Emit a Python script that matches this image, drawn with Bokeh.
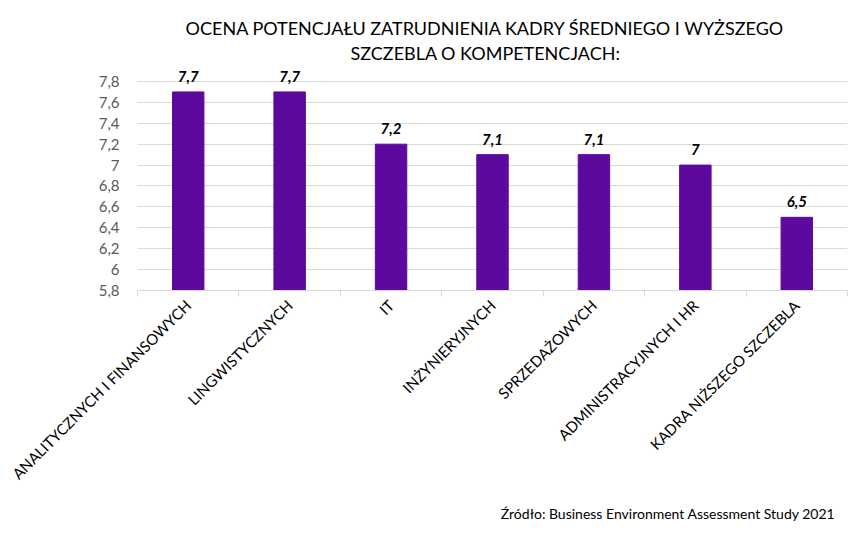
import math
from bokeh.plotting import figure
from bokeh.models import (Range1d, FixedTicker, LinearAxis, Title,
                          CustomJSTickFormatter, Label, ColumnDataSource)
from bokeh.core.properties import value
from bokeh.embed import file_html
from bokeh.resources import INLINE

categories = ["ANALITYCZNYCH I FINANSOWYCH", "LINGWISTYCZNYCH", "IT",
              "INŻYNIERYJNYCH", "SPRZEDAŻOWYCH", "ADMINISTRACYJNYCH I HR",
              "KADRA NIŻSZEGO SZCZEBLA"]
scores = [7.7, 7.7, 7.2, 7.1, 7.1, 7.0, 6.5]
y_ticks = [5.8, 6.0, 6.2, 6.4, 6.6, 6.8, 7.0, 7.2, 7.4, 7.6, 7.8]
title_lines = ["OCENA POTENCJAŁU ZATRUDNIENIA KADRY ŚREDNIEGO I WYŻSZEGO",
               "SZCZEBLA O KOMPETENCJACH:"]
source_text = "Źródło: Business Environment Assessment Study 2021"


def fmt(v):
    s = ("%.1f" % v).replace(".", ",")
    return s[:-2] if s.endswith(",0") else s


n = len(categories)
centers = [i + 0.5 for i in range(n)]
boundaries = list(range(n + 1))
labels = [fmt(v) for v in scores]
src = ColumnDataSource(dict(x=centers, val=scores, lab=labels))

# frame extends above 7.8 to hold title and value labels (no outline drawn)
p = figure(x_range=Range1d(0, n), y_range=Range1d(5.8, 8.527), width=852, height=533,
           output_backend="svg", toolbar_location=None, x_axis_location=None,
           min_border_left=137, min_border_right=5, min_border_top=5,
           min_border_bottom=243)
p.outline_line_color = None
p.background_fill_color = "white"
p.border_fill_color = "white"

# y axis
p.yaxis.ticker = FixedTicker(ticks=y_ticks)
p.yaxis.formatter = CustomJSTickFormatter(
    code="var s = (Math.round(tick*10)/10).toString(); return s.replace('.', ',');")
p.yaxis.axis_line_color = None
p.yaxis.major_tick_line_color = None
p.yaxis.minor_tick_line_color = None
p.yaxis.major_label_text_font = "Lato"
p.yaxis.major_label_text_font_size = "15px"
p.yaxis.major_label_text_color = "#595959"
p.yaxis.major_label_standoff = 12

p.ygrid.ticker = FixedTicker(ticks=y_ticks)
p.ygrid.grid_line_color = "#d9d9d9"
p.ygrid.grid_line_width = 1
p.xgrid.grid_line_color = None

# category axis: labels at centres, small ticks at the category boundaries
cax = LinearAxis(ticker=FixedTicker(ticks=centers, minor_ticks=boundaries),
                 major_label_overrides={c: name for c, name in zip(centers, categories)},
                 axis_line_color="#d9d9d9", major_tick_line_color=None,
                 minor_tick_line_color="#d9d9d9", minor_tick_in=0, minor_tick_out=6,
                 major_tick_in=0, major_tick_out=6,
                 major_label_orientation=math.pi / 4,
                 major_label_text_font="Lato",
                 major_label_text_font_size="15px",
                 major_label_text_color="#000000",
                 major_label_standoff=6)
p.add_layout(cax, "below")

p.add_layout(Title(text=source_text, align="right", offset=12, standoff=23,
                   text_font="Lato", text_font_size="14px",
                   text_font_style="normal", text_color="#000000"), "below")

p.vbar(x="x", top="val", bottom=5.8, width=0.31, source=src,
       fill_color="#5c0a9e", line_color="#5c0a9e")

p.text(x="x", y="val", text="lab", source=src, y_offset=-10,
       text_align="center", text_baseline="bottom",
       text_font=value("Lato"), text_font_style="bold italic",
       text_font_size="15px", text_color="#000000")

# two-line title inside the (invisible) upper part of the frame
p.add_layout(Label(x=n / 2, y=8.307, text=title_lines[0], text_align="center",
                   text_baseline="middle", x_offset=-7,
                   text_font="Lato", text_font_size="18px", text_color="#000000"))
p.add_layout(Label(x=n / 2, y=8.077, text=title_lines[1], text_align="center",
                   text_baseline="middle", x_offset=-7,
                   text_font="Lato", text_font_size="18px", text_color="#000000"))

open("out.html", "w").write(file_html(p, INLINE))
